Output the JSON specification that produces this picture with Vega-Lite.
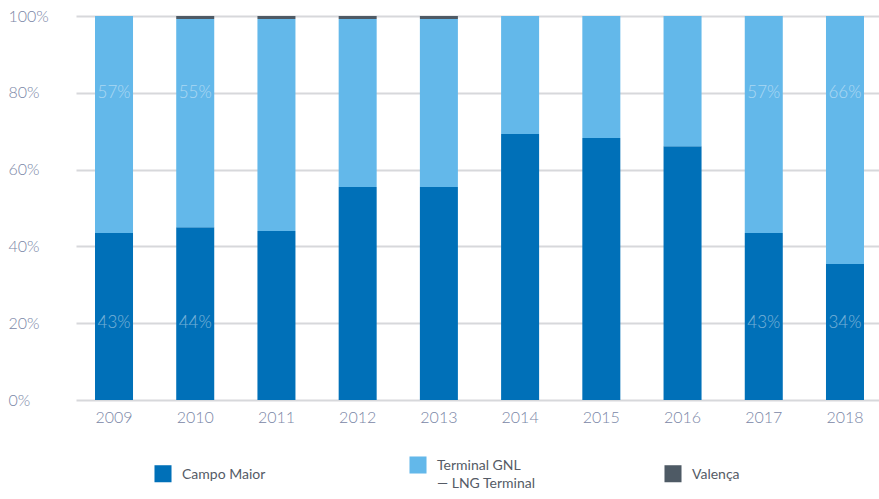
{
  "$schema": "https://vega.github.io/schema/vega-lite/v6.json",
  "autosize": {"type": "none"},
  "width": 807,
  "height": 384,
  "padding": {"left": 76, "top": 16, "right": -4, "bottom": 99},
  "background": "white",
  "config": {
    "view": {"stroke": null},
    "font": "Lato",
    "axis": {"labelFont": "Lato", "labelFontWeight": 300}
  },
  "datasets": {
    "bars": [
      {"year": "2009", "source": "Campo Maior", "value": 43.5},
      {"year": "2009", "source": "Terminal GNL", "value": 56.5},
      {"year": "2010", "source": "Campo Maior", "value": 45.0},
      {"year": "2010", "source": "Terminal GNL", "value": 54.2},
      {"year": "2010", "source": "Valença", "value": 0.8},
      {"year": "2011", "source": "Campo Maior", "value": 44.0},
      {"year": "2011", "source": "Terminal GNL", "value": 55.2},
      {"year": "2011", "source": "Valença", "value": 0.8},
      {"year": "2012", "source": "Campo Maior", "value": 55.5},
      {"year": "2012", "source": "Terminal GNL", "value": 43.7},
      {"year": "2012", "source": "Valença", "value": 0.8},
      {"year": "2013", "source": "Campo Maior", "value": 55.5},
      {"year": "2013", "source": "Terminal GNL", "value": 43.7},
      {"year": "2013", "source": "Valença", "value": 0.8},
      {"year": "2014", "source": "Campo Maior", "value": 69.3},
      {"year": "2014", "source": "Terminal GNL", "value": 30.7},
      {"year": "2015", "source": "Campo Maior", "value": 68.2},
      {"year": "2015", "source": "Terminal GNL", "value": 31.8},
      {"year": "2016", "source": "Campo Maior", "value": 66.1},
      {"year": "2016", "source": "Terminal GNL", "value": 33.9},
      {"year": "2017", "source": "Campo Maior", "value": 43.5},
      {"year": "2017", "source": "Terminal GNL", "value": 56.5},
      {"year": "2018", "source": "Campo Maior", "value": 35.4},
      {"year": "2018", "source": "Terminal GNL", "value": 64.6}
    ],
    "labels": [
      {"year": "2009", "pos": 80, "label": "57%"},
      {"year": "2009", "pos": 20, "label": "43%"},
      {"year": "2010", "pos": 80, "label": "55%"},
      {"year": "2010", "pos": 20, "label": "44%"},
      {"year": "2017", "pos": 80, "label": "57%"},
      {"year": "2017", "pos": 20, "label": "43%"},
      {"year": "2018", "pos": 80, "label": "66%"},
      {"year": "2018", "pos": 20, "label": "34%"}
    ]
  },
  "layer": [
    {
      "data": {"name": "bars"},
      "mark": {"type": "bar"},
      "encoding": {
        "x": {
          "field": "year", "type": "nominal",
          "scale": {"paddingInner": 0.532, "paddingOuter": 0.234},
          "axis": {
            "title": null, "labelAngle": 0, "ticks": false, "domain": false,
            "labelFontSize": 16, "labelColor": "#7a86a6", "labelPadding": 9
          }
        },
        "y": {
          "field": "value", "type": "quantitative", "stack": "zero",
          "scale": {"domain": [0, 100], "nice": false},
          "axis": {
            "title": null, "values": [0, 20, 40, 60, 80, 100],
            "labelExpr": "datum.value + '%'",
            "ticks": false, "tickSize": 0, "domain": false,
            "labelAlign": "left", "labelPadding": 68,
            "labelFontSize": 16, "labelColor": "#7a86a6",
            "gridColor": "#d7d8db", "gridWidth": 2
          }
        },
        "color": {
          "field": "source", "type": "nominal",
          "scale": {
            "domain": ["Campo Maior", "Terminal GNL", "Valença"],
            "range": ["#0070b8", "#63b8ea", "#4e5a65"]
          },
          "legend": {
            "title": null, "orient": "none", "direction": "horizontal",
            "columns": 3, "legendX": 78, "legendY": 440,
            "symbolType": "square", "symbolSize": 290, "symbolStrokeWidth": 0,
            "symbolOpacity": 1,
            "labelFontSize": 14, "labelColor": "#555b66", "labelFont": "Lato",
            "labelOffset": 10, "columnPadding": 128, "gridAlign": "all",
            "labelBaseline": "alphabetic",
            "labelExpr": "datum.label == 'Terminal GNL' ? ['Terminal GNL', '— LNG Terminal'] : datum.label",
            "encode": {
              "labels": {"update": {"dy": {"value": 5}, "lineHeight": {"value": 18}}}
            }
          }
        },
        "order": {"field": "source", "sort": "ascending"}
      }
    },
    {
      "data": {"name": "labels"},
      "mark": {"type": "text", "fontSize": 17, "fontWeight": 300, "color": "white", "opacity": 0.45, "baseline": "middle"},
      "encoding": {
        "x": {"field": "year", "type": "nominal"},
        "y": {"field": "pos", "type": "quantitative"},
        "text": {"field": "label"}
      }
    }
  ]
}
